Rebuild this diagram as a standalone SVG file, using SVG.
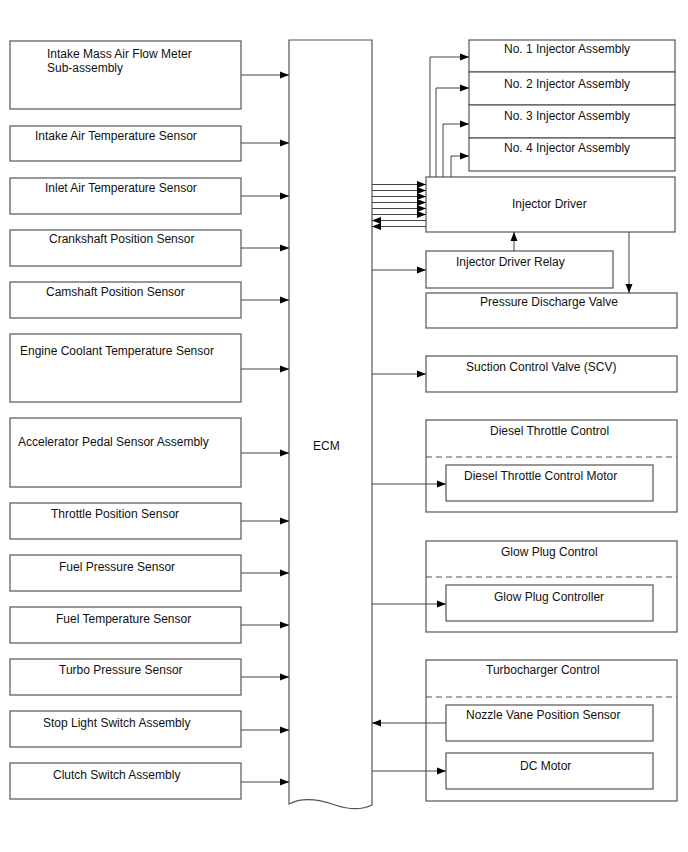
<svg xmlns="http://www.w3.org/2000/svg" width="688" height="852" viewBox="0 0 688 852">
<defs>
<marker id="ah" markerUnits="userSpaceOnUse" markerWidth="10" markerHeight="8" refX="9" refY="4" orient="auto">
<path d="M0,0.5 L9,4 L0,7.5 Z" fill="#000"/>
</marker>
<style>
rect,.box{fill:#fff;stroke:#555;stroke-width:1.2}
text{font-family:"Liberation Sans",Arial,sans-serif;font-size:12px;fill:#111}
.c{fill:none;stroke:#444;stroke-width:1}
.a{marker-end:url(#ah)}
.d{fill:none;stroke:#555;stroke-width:1.2;stroke-dasharray:6,4}
</style>
</defs>

<g id="ecm"><path class="box" d="M289,40 H372 V805 C362,810 350,810 335,805 C318,799 302,797 289,804 Z"/><text x="313" y="450">ECM</text></g>

<g id="maf"><rect x="10" y="41" width="231" height="68"/><text x="47" y="58">Intake Mass Air Flow Meter</text><text x="47" y="72">Sub-assembly</text></g>
<g id="iat"><rect x="10" y="126" width="231" height="35"/><text x="35" y="140">Intake Air Temperature Sensor</text></g>
<g id="inlet"><rect x="10" y="178" width="231" height="36"/><text x="45" y="192">Inlet Air Temperature Sensor</text></g>
<g id="crank"><rect x="10" y="230" width="231" height="36"/><text x="49" y="243">Crankshaft Position Sensor</text></g>
<g id="cam"><rect x="10" y="282" width="231" height="36"/><text x="46" y="296">Camshaft Position Sensor</text></g>
<g id="ect"><rect x="10" y="334" width="231" height="68"/><text x="20" y="355">Engine Coolant Temperature Sensor</text></g>
<g id="accel"><rect x="10" y="418" width="231" height="69"/><text x="18" y="446">Accelerator Pedal Sensor Assembly</text></g>
<g id="tps"><rect x="10" y="503" width="231" height="36"/><text x="51" y="518">Throttle Position Sensor</text></g>
<g id="fps"><rect x="10" y="555" width="231" height="36"/><text x="59" y="571">Fuel Pressure Sensor</text></g>
<g id="fts"><rect x="10" y="607" width="231" height="36"/><text x="56" y="623">Fuel Temperature Sensor</text></g>
<g id="tbs"><rect x="10" y="659" width="231" height="36"/><text x="59" y="674">Turbo Pressure Sensor</text></g>
<g id="stop"><rect x="10" y="711" width="231" height="36"/><text x="43" y="727">Stop Light Switch Assembly</text></g>
<g id="clutch"><rect x="10" y="763" width="231" height="36"/><text x="53" y="779">Clutch Switch Assembly</text></g>

<g id="inj1"><rect x="469" y="40" width="206" height="32"/><text x="504" y="53">No. 1 Injector Assembly</text></g>
<g id="inj2"><rect x="469" y="72" width="206" height="33"/><text x="504" y="88">No. 2 Injector Assembly</text></g>
<g id="inj3"><rect x="469" y="105" width="206" height="33"/><text x="504" y="120">No. 3 Injector Assembly</text></g>
<g id="inj4"><rect x="469" y="138" width="206" height="33"/><text x="504" y="152">No. 4 Injector Assembly</text></g>
<g id="driver"><rect x="426" y="177" width="249" height="55"/><text x="512" y="208">Injector Driver</text></g>
<g id="relay"><rect x="426" y="251" width="187" height="37"/><text x="456" y="266">Injector Driver Relay</text></g>
<g id="pdv"><rect x="426" y="293" width="251" height="35"/><text x="480" y="306">Pressure Discharge Valve</text></g>
<g id="scv"><rect x="426" y="356" width="251" height="36"/><text x="466" y="371">Suction Control Valve (SCV)</text></g>
<g id="dtc"><rect x="426" y="420" width="251" height="92"/><text x="490" y="435">Diesel Throttle Control</text><line class="d" x1="426" y1="457" x2="677" y2="457"/></g>
<g id="dtcm"><rect x="446" y="465" width="207" height="36"/><text x="464" y="480">Diesel Throttle Control Motor</text></g>
<g id="gpc"><rect x="426" y="541" width="251" height="91"/><text x="501" y="556">Glow Plug Control</text><line class="d" x1="426" y1="577" x2="677" y2="577"/></g>
<g id="gpctl"><rect x="446" y="585" width="207" height="36"/><text x="494" y="601">Glow Plug Controller</text></g>
<g id="tc"><rect x="426" y="660" width="251" height="141"/><text x="486" y="674">Turbocharger Control</text><line class="d" x1="426" y1="697" x2="677" y2="697"/></g>
<g id="nvps"><rect x="446" y="705" width="207" height="36"/><text x="466" y="719">Nozzle Vane Position Sensor</text></g>
<g id="dcm"><rect x="446" y="753" width="207" height="36"/><text x="520" y="770">DC Motor</text></g>

<g id="connectors">
<line class="c a" x1="241" y1="75" x2="289" y2="75"/>
<line class="c a" x1="241" y1="143" x2="289" y2="143"/>
<line class="c a" x1="241" y1="196" x2="289" y2="196"/>
<line class="c a" x1="241" y1="248" x2="289" y2="248"/>
<line class="c a" x1="241" y1="300" x2="289" y2="300"/>
<line class="c a" x1="241" y1="369" x2="289" y2="369"/>
<line class="c a" x1="241" y1="453" x2="289" y2="453"/>
<line class="c a" x1="241" y1="521" x2="289" y2="521"/>
<line class="c a" x1="241" y1="573" x2="289" y2="573"/>
<line class="c a" x1="241" y1="625" x2="289" y2="625"/>
<line class="c a" x1="241" y1="677" x2="289" y2="677"/>
<line class="c a" x1="241" y1="730" x2="289" y2="730"/>
<line class="c a" x1="241" y1="782" x2="289" y2="782"/>

<polyline class="c a" points="430,177 430,57 469,57"/>
<polyline class="c a" points="436,177 436,88 469,88"/>
<polyline class="c a" points="443,177 443,124 469,124"/>
<polyline class="c a" points="451,177 451,156 469,156"/>

<line class="c a" x1="372" y1="184.5" x2="426" y2="184.5"/>
<line class="c a" x1="372" y1="190.5" x2="426" y2="190.5"/>
<line class="c a" x1="372" y1="196.5" x2="426" y2="196.5"/>
<line class="c a" x1="372" y1="202.5" x2="426" y2="202.5"/>
<line class="c a" x1="372" y1="208.5" x2="426" y2="208.5"/>
<line class="c a" x1="372" y1="214.5" x2="426" y2="214.5"/>
<line class="c a" x1="426" y1="220.5" x2="372" y2="220.5"/>
<line class="c a" x1="426" y1="226.5" x2="372" y2="226.5"/>

<line class="c a" x1="372" y1="270" x2="426" y2="270"/>
<line class="c a" x1="514" y1="251" x2="514" y2="232"/>
<line class="c a" x1="629" y1="232" x2="629" y2="293"/>
<line class="c a" x1="372" y1="374" x2="426" y2="374"/>
<line class="c a" x1="372" y1="484" x2="446" y2="484"/>
<line class="c a" x1="372" y1="604" x2="446" y2="604"/>
<line class="c a" x1="446" y1="723" x2="372" y2="723"/>
<line class="c a" x1="372" y1="771" x2="446" y2="771"/>
</g>
</svg>
